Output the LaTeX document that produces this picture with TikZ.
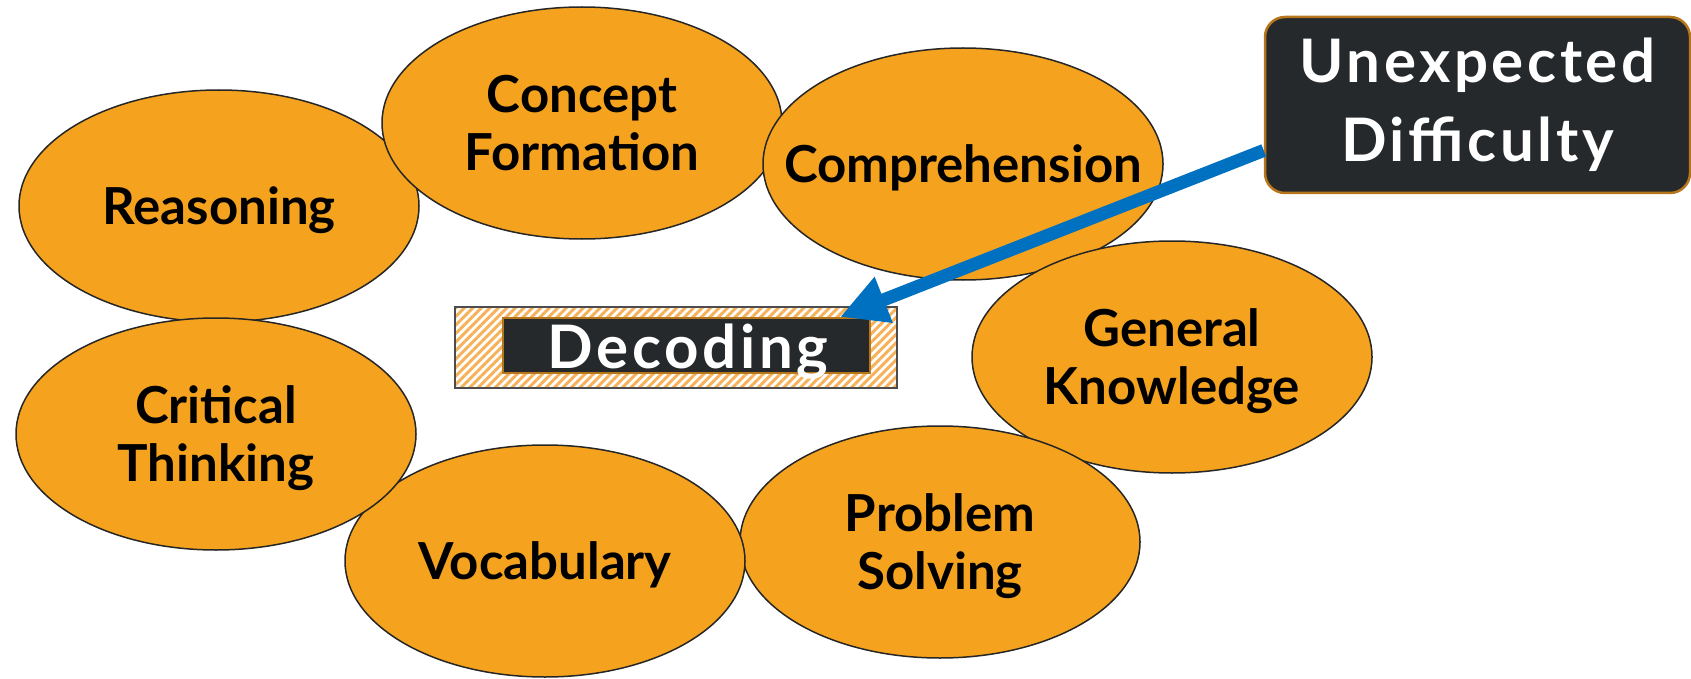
\documentclass[tikz,border=0pt]{standalone}
\usepackage{fontspec}
\setmainfont{Lato}
\newfontfamily\boxfont{Lato}[LetterSpace=6]
\usetikzlibrary{shapes.geometric,arrows.meta,patterns.meta}

\definecolor{blobfill}{RGB}{245,163,30}
\definecolor{boxdark}{RGB}{38,41,44}
\definecolor{boxedge}{RGB}{184,118,28}
\definecolor{arrowblue}{RGB}{0,112,192}
\definecolor{stripe}{RGB}{246,178,90}

\tikzset{
    blob/.style={ellipse, draw=black!85, line width=1.5pt, fill=blobfill,
        minimum width=400pt, minimum height=232pt, inner xsep=-45pt, inner ysep=0pt,
        align=center, text depth=0pt, font=\bfseries\fontsize{51}{58}\selectfont},
    hatchbox/.style={draw=black!70, line width=1.5pt,
        pattern={Lines[angle=45,distance=6pt,line width=3pt]}, pattern color=stripe,
        minimum width=442pt, minimum height=81pt, inner sep=0pt},
    darkbox/.style={draw=boxedge, line width=2.5pt, fill=boxdark, inner sep=0pt},
    notebox/.style={darkbox, rounded corners=20pt, minimum width=425pt,
        minimum height=176pt, align=center, text=white,
        font=\boxfont\bfseries\fontsize{60}{79}\selectfont},
    tipline/.style={draw=arrowblue, line width=13pt,
        -{Triangle[length=47pt,width=46pt]}},
}

\begin{document}
\begin{tikzpicture}[x=1pt, y=-1pt]
    \useasboundingbox (0,0) rectangle (1691,679);

    \node[blob] (reason) at (219,206) {Reasoning};
    \node[blob] (concept) at (582,123) {Concept\\Formation};
    \node[blob] (compr) at (963,164) {Comprehension};
    \node[blob] (genknow) at (1172,357) {General\\Knowledge};
    \node[blob] (probsolve) at (940,542) {Problem\\Solving};
    \node[blob] (vocab) at (545,561) {Vocabulary};
    \node[blob] (critical) at (216,434) {Critical\\Thinking};

    \node[hatchbox] (dechatch) at (676,347.5) {};
    \node[darkbox, minimum width=367pt, minimum height=55pt] (decbox) at (686.5,345.5) {};
    \node[anchor=base, text=white, font=\boxfont\bfseries\fontsize{60}{72}\selectfont] (declabel) at (688,368) {Decoding};

    \node[notebox] (udiff) at (1477.5,105) {Unexpected\\Difficulty};

    \coordinate (tip) at (840,317);
    \draw[tipline] (udiff.192.5) -- (tip);
\end{tikzpicture}
\end{document}
